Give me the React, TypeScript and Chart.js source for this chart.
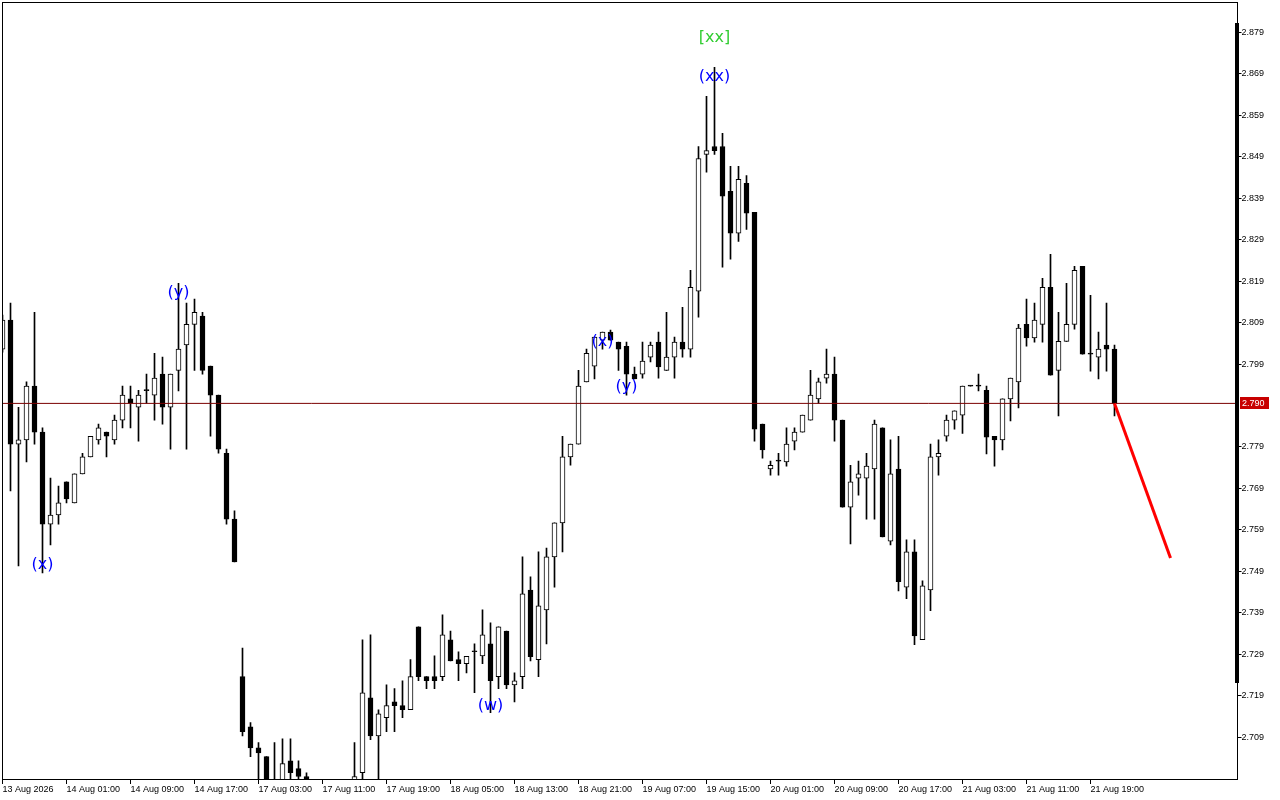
import { useEffect, useRef } from "react";
import { Chart, registerables } from "chart.js";

Chart.register(...registerables);

// ---- axis labels ----
const xTickIdx = [0, 8, 16, 24, 32, 40, 48, 56, 64, 72, 80, 88, 96, 104, 112, 120, 128, 136];
const xTickLabels = [
  "13 Aug 2026", "14 Aug 01:00", "14 Aug 09:00", "14 Aug 17:00", "17 Aug 03:00", "17 Aug 11:00",
  "17 Aug 19:00", "18 Aug 05:00", "18 Aug 13:00", "18 Aug 21:00", "19 Aug 07:00", "19 Aug 15:00",
  "20 Aug 01:00", "20 Aug 09:00", "20 Aug 17:00", "21 Aug 03:00", "21 Aug 11:00", "21 Aug 19:00",
];
const yTickValues = [
  2.709, 2.719, 2.729, 2.739, 2.749, 2.759, 2.769, 2.779, 2.799, 2.809,
  2.819, 2.829, 2.839, 2.849, 2.859, 2.869, 2.879,
];

// ---- hourly candles (OHLC) ----
const open = [
  2.8026, 2.8096, 2.7797, 2.7807, 2.7937, 2.7826, 2.7604, 2.7626, 2.7706, 2.7655,
  2.7725, 2.7766, 2.7807, 2.7826, 2.7807, 2.7855, 2.7906, 2.7886, 2.7926, 2.7915,
  2.7966, 2.7886, 2.7975, 2.8036, 2.8086, 2.8106, 2.7985, 2.7915, 2.7775, 2.7616,
  2.7236, 2.7115, 2.7064, 2.7043, 2.6982, 2.6975, 2.7033, 2.7014, 2.6995, 2.6982,
  2.6970, 2.6978, 2.6968, 2.6976, 2.6980, 2.7004, 2.7185, 2.7093, 2.7137, 2.7175,
  2.7166, 2.7156, 2.7356, 2.7236, 2.7236, 2.7236, 2.7325, 2.7277, 2.7267, 2.7296,
  2.7286, 2.7315, 2.7236, 2.7346, 2.7216, 2.7236, 2.7445, 2.7277, 2.7397, 2.7525,
  2.7607, 2.7766, 2.7797, 2.7947, 2.7985, 2.8048, 2.8067, 2.8043, 2.8033, 2.7966,
  2.7966, 2.8007, 2.8043, 2.7975, 2.8007, 2.8043, 2.8026, 2.8166, 2.8496, 2.8515,
  2.8515, 2.8407, 2.8306, 2.8426, 2.8356, 2.7845, 2.7737, 2.7756, 2.7754, 2.7804,
  2.7826, 2.7855, 2.7906, 2.7956, 2.7966, 2.7855, 2.7645, 2.7715, 2.7715, 2.7737,
  2.7836, 2.7563, 2.7737, 2.7452, 2.7537, 2.7325, 2.7445, 2.7766, 2.7816, 2.7855,
  2.7867, 2.7937, 2.7937, 2.7927, 2.7816, 2.7807, 2.7906, 2.7947, 2.8086, 2.8053,
  2.8086, 2.8175, 2.7975, 2.8045, 2.8086, 2.8226, 2.8014, 2.8007, 2.8036, 2.8026,
];
const high = [
  2.8108, 2.8137, 2.7886, 2.7947, 2.8115, 2.7836, 2.7715, 2.7696, 2.7706, 2.7725,
  2.7775, 2.7816, 2.7845, 2.7826, 2.7867, 2.7937, 2.7937, 2.7927, 2.7966, 2.8016,
  2.8007, 2.7966, 2.8185, 2.8137, 2.8147, 2.8115, 2.7985, 2.7915, 2.7785, 2.7636,
  2.7305, 2.7125, 2.7077, 2.7043, 2.7077, 2.7086, 2.7086, 2.7033, 2.7004, 2.6988,
  2.6985, 2.6986, 2.6984, 2.6987, 2.7077, 2.7325, 2.7337, 2.7156, 2.7216, 2.7207,
  2.7226, 2.7277, 2.7356, 2.7236, 2.7286, 2.7385, 2.7346, 2.7296, 2.7285, 2.7315,
  2.7397, 2.7366, 2.7356, 2.7346, 2.7245, 2.7525, 2.7477, 2.7537, 2.7546, 2.7607,
  2.7816, 2.7797, 2.7975, 2.8026, 2.8055, 2.8067, 2.8072, 2.8043, 2.8043, 2.7983,
  2.8043, 2.8043, 2.8067, 2.8115, 2.8055, 2.8127, 2.8216, 2.8515, 2.8636, 2.8706,
  2.8547, 2.8467, 2.8467, 2.8445, 2.8356, 2.7845, 2.7756, 2.7775, 2.7836, 2.7836,
  2.7867, 2.7975, 2.7956, 2.8026, 2.8007, 2.7855, 2.7746, 2.7756, 2.7775, 2.7855,
  2.7836, 2.7807, 2.7816, 2.7566, 2.7566, 2.7467, 2.7797, 2.7807, 2.7867, 2.7877,
  2.7937, 2.7938, 2.7966, 2.7937, 2.7816, 2.7906, 2.7956, 2.8086, 2.8147, 2.8137,
  2.8197, 2.8255, 2.8115, 2.8185, 2.8226, 2.8226, 2.8156, 2.8067, 2.8137, 2.8036,
];
const low = [
  2.8019, 2.7684, 2.7503, 2.7754, 2.7797, 2.7486, 2.7554, 2.7604, 2.7655, 2.7655,
  2.7725, 2.7766, 2.7797, 2.7766, 2.7797, 2.7836, 2.7836, 2.7804, 2.7896, 2.7855,
  2.7845, 2.7785, 2.7925, 2.7785, 2.7975, 2.7966, 2.7816, 2.7775, 2.7604, 2.7513,
  2.7093, 2.7043, 2.6975, 2.6970, 2.6960, 2.6965, 2.6980, 2.6985, 2.6975, 2.6960,
  2.6955, 2.6962, 2.6958, 2.6965, 2.6970, 2.6975, 2.7084, 2.6980, 2.7103, 2.7103,
  2.7137, 2.7156, 2.7226, 2.7207, 2.7207, 2.7226, 2.7274, 2.7226, 2.7245, 2.7197,
  2.7267, 2.7149, 2.7207, 2.7207, 2.7175, 2.7207, 2.7274, 2.7236, 2.7315, 2.7452,
  2.7537, 2.7746, 2.7797, 2.7947, 2.7954, 2.8026, 2.8048, 2.7975, 2.7915, 2.7954,
  2.7956, 2.7995, 2.7956, 2.7975, 2.7956, 2.8007, 2.8007, 2.8103, 2.8453, 2.8496,
  2.8224, 2.8243, 2.8286, 2.8315, 2.7804, 2.7763, 2.7722, 2.7722, 2.7744, 2.7783,
  2.7826, 2.7855, 2.7896, 2.7944, 2.7804, 2.7645, 2.7556, 2.7674, 2.7616, 2.7616,
  2.7573, 2.7554, 2.7443, 2.7424, 2.7313, 2.7325, 2.7395, 2.7722, 2.7804, 2.7833,
  2.7823, 2.7937, 2.7925, 2.7773, 2.7744, 2.7783, 2.7853, 2.7884, 2.8033, 2.8043,
  2.8043, 2.7963, 2.7865, 2.8045, 2.8074, 2.8014, 2.7973, 2.7954, 2.7973, 2.7865,
];
const close = [
  2.8096, 2.7797, 2.7807, 2.7937, 2.7826, 2.7604, 2.7626, 2.7655, 2.7665, 2.7725,
  2.7766, 2.7816, 2.7836, 2.7816, 2.7855, 2.7915, 2.7896, 2.7915, 2.7927, 2.7956,
  2.7886, 2.7966, 2.8026, 2.8086, 2.8115, 2.7975, 2.7915, 2.7785, 2.7616, 2.7513,
  2.7103, 2.7064, 2.7052, 2.6985, 2.6970, 2.7026, 2.7004, 2.6995, 2.6982, 2.6970,
  2.6978, 2.6968, 2.6976, 2.6980, 2.6995, 2.7197, 2.7093, 2.7146, 2.7166, 2.7166,
  2.7156, 2.7236, 2.7236, 2.7226, 2.7226, 2.7337, 2.7274, 2.7267, 2.7285, 2.7297,
  2.7337, 2.7226, 2.7356, 2.7216, 2.7226, 2.7436, 2.7284, 2.7407, 2.7525, 2.7607,
  2.7766, 2.7797, 2.7937, 2.8016, 2.8055, 2.8067, 2.8048, 2.8026, 2.7966, 2.7954,
  2.7997, 2.8036, 2.7983, 2.8007, 2.8043, 2.8026, 2.8175, 2.8486, 2.8505, 2.8505,
  2.8395, 2.8306, 2.8436, 2.8354, 2.7833, 2.7783, 2.7746, 2.7757, 2.7797, 2.7826,
  2.7867, 2.7915, 2.7947, 2.7966, 2.7855, 2.7645, 2.7706, 2.7725, 2.7744, 2.7845,
  2.7573, 2.7725, 2.7465, 2.7537, 2.7334, 2.7455, 2.7766, 2.7775, 2.7855, 2.7877,
  2.7937, 2.7938, 2.7938, 2.7814, 2.7807, 2.7906, 2.7956, 2.8077, 2.8053, 2.8096,
  2.8175, 2.7963, 2.8045, 2.8086, 2.8216, 2.8014, 2.8015, 2.8026, 2.8026, 2.78952,
];

// ---- wave labels ----
const waveTexts = ["(x)", "(y)", "(w)", "(x)", "(y)", "(xx)", "[xx]"];
const waveIdx = [5, 22, 61, 75, 78, 89, 89];
const wavePrice = [2.7505, 2.8161, 2.7166, 2.8043, 2.7934, 2.8682, 2.8776];
const waveColors = ["#0000ff", "#0000ff", "#0000ff", "#0000ff", "#0000ff", "#0000ff", "#32cd32"];

// ---- projection line ----
const trendX = [139, 146];
const trendY = [2.78952, 2.7522];

const X_MAX = 154.375;
const Y_MIN = 2.6989;
const Y_MAX = 2.88612;
const AXIS_FONT = { family: "'Liberation Sans', Arial, sans-serif", size: 9 };

export default function App() {
  const ref = useRef<HTMLCanvasElement>(null);

  useEffect(() => {
    const canvas = ref.current;
    if (!canvas) return;
    const idx = open.map((_, i) => i);
    const bodies = idx.map((i) => ({ x: i, y: [Math.min(open[i], close[i]), Math.max(open[i], close[i])] }));
    const wicks = idx.map((i) => ({ x: i, y: [low[i], high[i]] }));
    const bodyFill = idx.map((i) => (close[i] - open[i] > 0.00015 ? "#ffffff" : "#000000"));
    const last = close[close.length - 1];

    const overlay = {
      id: "overlay",
      afterDatasetsDraw(chart: any) {
        const { ctx, scales } = chart;
        ctx.save();
        ctx.font = "16px 'DejaVu Sans', sans-serif";
        ctx.textAlign = "center";
        ctx.textBaseline = "middle";
        waveTexts.forEach((t, i) => {
          ctx.fillStyle = waveColors[i];
          ctx.fillText(t, scales.x.getPixelForValue(waveIdx[i]), scales.y.getPixelForValue(wavePrice[i]));
        });
        ctx.restore();
      },
      afterDraw(chart: any) {
        const { ctx, chartArea: ca, scales } = chart;
        ctx.save();
        ctx.fillStyle = "#000";
        ctx.fillRect(ca.left - 0.5, ca.top - 1, ca.right - ca.left + 1, 1);
        ctx.fillRect(ca.left - 0.5, ca.top - 1, 1, ca.bottom - ca.top + 1);
        ctx.fillRect(ca.right - 2.5, 23, 4, 660);
        const y = scales.y.getPixelForValue(last);
        ctx.fillStyle = "#c80000";
        ctx.fillRect(ca.right + 2.5, Math.round(y) - 6, 29, 12);
        ctx.fillStyle = "#ffffff";
        ctx.font = "9px 'Liberation Sans', Arial, sans-serif";
        ctx.textAlign = "left";
        ctx.textBaseline = "middle";
        ctx.fillText(last.toFixed(3), ca.right + 4.5, Math.round(y) + 0.5);
        ctx.restore();
      },
    };

    const chart = new Chart(canvas, {
      type: "bar",
      data: {
        datasets: [
          {
            type: "line",
            data: trendX.map((x, i) => ({ x, y: trendY[i] })),
            borderColor: "#ff0000",
            borderWidth: 3,
            pointRadius: 0,
            order: -3,
          } as any,
          {
            type: "line",
            data: [{ x: 0, y: last }, { x: X_MAX, y: last }],
            borderColor: "#7a0000",
            borderWidth: 1,
            pointRadius: 0,
            order: -2,
          } as any,
          {
            type: "bar",
            data: bodies,
            backgroundColor: bodyFill,
            borderColor: "#000000",
            borderWidth: 1,
            borderSkipped: false,
            barThickness: 5,
            minBarLength: 1,
            grouped: false,
            order: 0,
          } as any,
          {
            type: "bar",
            data: wicks,
            backgroundColor: "#000000",
            borderWidth: 0,
            barThickness: 1,
            grouped: false,
            order: 1,
          } as any,
        ],
      },
      options: {
        responsive: false,
        maintainAspectRatio: false,
        devicePixelRatio: 1,
        animation: false,
        events: [],
        layout: { padding: { left: 2.5, top: 3, right: 0, bottom: 0 } },
        plugins: { legend: { display: false }, tooltip: { enabled: false } },
        scales: {
          x: {
            type: "linear",
            position: "bottom",
            min: 0,
            max: X_MAX,
            offset: false,
            bounds: "data",
            afterBuildTicks: (s: any) => {
              s.ticks = xTickIdx.map((v) => ({ value: v }));
            },
            afterFit: (s: any) => {
              s.height = 21;
              s.paddingLeft = 0;
              s.paddingRight = 0;
            },
            ticks: {
              autoSkip: false,
              maxRotation: 0,
              minRotation: 0,
              align: "start",
              padding: 0,
              color: "#000",
              font: AXIS_FONT,
              callback: (_v: any, i: number) => xTickLabels[i],
            },
            grid: { display: true, drawOnChartArea: false, drawTicks: true, tickLength: 5, color: "#000", offset: false },
            border: { display: true, color: "#000", width: 1 },
          },
          y: {
            type: "linear",
            position: "right",
            min: Y_MIN,
            max: Y_MAX,
            bounds: "data",
            afterBuildTicks: (s: any) => {
              s.ticks = yTickValues.map((v) => ({ value: v }));
            },
            afterFit: (s: any) => {
              s.width = 42.5;
              s.paddingTop = 0;
              s.paddingBottom = 0;
            },
            ticks: {
              autoSkip: false,
              padding: 0,
              color: "#000",
              font: AXIS_FONT,
              callback: (v: any) => Number(v).toFixed(3),
            },
            grid: { display: true, drawOnChartArea: false, drawTicks: true, tickLength: 4, color: "#000" },
            border: { display: true, color: "#000", width: 1 },
          },
        },
      } as any,
      plugins: [overlay],
    });

    return () => chart.destroy();
  }, []);

  return (
    <div style={{ position: "fixed", left: 0, top: 0, width: 1280, height: 800, background: "#fff" }}>
      <canvas ref={ref} width={1280} height={800} style={{ display: "block", width: 1280, height: 800 }} />
    </div>
  );
}
